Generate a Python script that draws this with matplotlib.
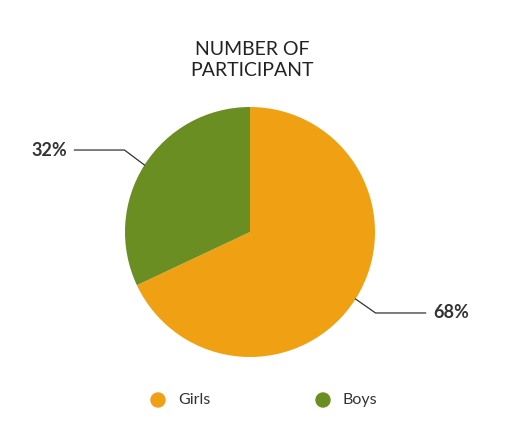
import matplotlib
matplotlib.use("Agg")
import matplotlib.pyplot as plt
import numpy as np

labels = ["Girls", "Boys"]
values = [68, 32]
colors = ["#F0A013", "#6B8E23"]

plt.rcParams['font.family'] = ['Lato', 'DejaVu Sans']
fig = plt.figure(figsize=(5.26, 4.33), dpi=100)
W, H = 526, 433
cx, cy, r = 250, 232, 125
ax = fig.add_axes([(cx - r) / W, (H - cy - r) / H, 2 * r / W, 2 * r / H])
wedges, _ = ax.pie(values, colors=colors, startangle=90, counterclock=False,
                   wedgeprops=dict(linewidth=0))
ax.set_xlim(-1, 1); ax.set_ylim(-1, 1); ax.set_aspect('equal')
ax.axis('off')

cum = np.cumsum([0] + values)
for i, v in enumerate(values):
    mid = np.deg2rad(90 - (cum[i] + v / 2) * 3.6)
    ex, ey = np.cos(mid), np.sin(mid)
    side = 1 if ex > 0 else -1
    elx = ex + side * 0.16
    ely = ey - 0.112 if ey < 0 else ey + 0.12
    lx = elx + side * 0.4
    ax.plot([ex, elx, lx], [ey, ely, ely], color="#333333", lw=0.9, clip_on=False)
    ax.text(lx + side * 0.06, ely, f"{v}%", ha='left' if side > 0 else 'right',
            va='center', fontsize=13, fontweight='bold', color="#333333")

fig.text(252 / W, 1 - 60 / H, "NUMBER OF\nPARTICIPANT", ha='center', va='center',
         fontsize=14, color="#222222", linespacing=1.3)

for x, lab, c in [(158, "Girls", colors[0]), (323, "Boys", colors[1])]:
    fig.patches.append(matplotlib.patches.Ellipse((x / W, 1 - 400 / H), 14 / W, 14 / H,
                       transform=fig.transFigure, color=c))
    fig.text((x + 20) / W, 1 - 400 / H, lab, ha='left', va='center',
             fontsize=11.5, color="#333333")

fig.savefig("out.png", dpi=100, facecolor='white')
